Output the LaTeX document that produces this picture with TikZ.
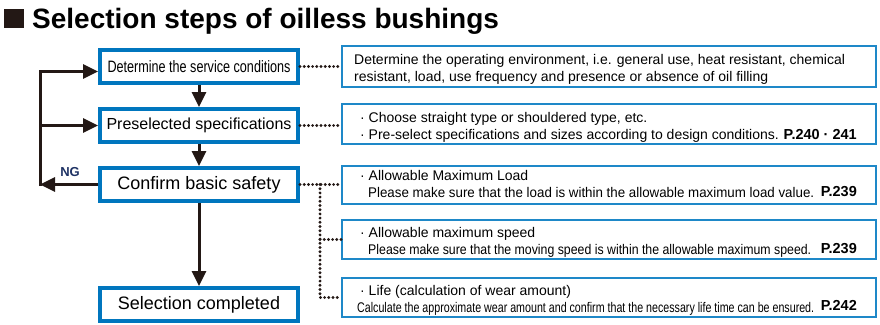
\documentclass[tikz,border=0pt]{standalone}
\usepackage{fontspec}
\setmainfont{Liberation Sans}
\usetikzlibrary{arrows.meta}

\begin{document}
\begin{tikzpicture}[x=1pt,y=-1pt,>={Triangle[length=15pt,width=14pt]},
  stepbox/.style={draw=boxblue,line width=4pt,fill=white,minimum width=198pt,
    minimum height=33pt,inner sep=0pt},
  notebox/.style={draw=noteblue,line width=1.5pt,minimum width=534pt,inner sep=0pt},
  notetext/.style={anchor=base west,inner sep=0pt,font=\fontsize{14}{17}\selectfont},
  pageref/.style={anchor=base east,inner sep=0pt,font=\bfseries\fontsize{14.5}{17}\selectfont},
  flow/.style={line width=3pt,draw=arrowdark},
  link/.style={line width=3.2pt,draw=arrowdark,dash pattern=on 0pt off 4.2pt,line cap=round}]
\definecolor{boxblue}{RGB}{0,118,190}
\definecolor{noteblue}{RGB}{30,136,200}
\definecolor{arrowdark}{RGB}{35,24,21}
\definecolor{ngblue}{RGB}{30,50,100}

\useasboundingbox (0,0) rectangle (880,324);

% heading
\node[fill=arrowdark,minimum width=20pt,minimum height=19pt,inner sep=0pt] (mark) at (14,18) {};
\node[anchor=base west,inner sep=0pt,font=\bfseries\fontsize{28}{32}\selectfont] (title)
  at (32,28) {Selection steps of oilless bushings};

% steps on the left
\node[stepbox,font=\fontsize{16.5}{18}\selectfont] (service) at (199,66.5)
  {\resizebox{183pt}{\height}{Determine the service conditions}};
\node[stepbox,font=\fontsize{16}{18}\selectfont] (presel) at (199,125.5) {Preselected specifications};
\node[stepbox,font=\fontsize{18}{20}\selectfont] (safety) at (199,184.5) {Confirm basic safety};
\node[stepbox,font=\fontsize{18}{20}\selectfont] (done) at (199,304.5) {Selection completed};

\draw[flow,->] (service) -- (presel);
\draw[flow,->] (presel) -- (safety);
\draw[flow,->] (safety) -- (done);

% NG loop back
\coordinate (loop) at (40,184.5);
\draw[flow,->] (safety.west) -- (loop);
\draw[flow,->] ([yshift=-1.5pt]loop) |- ([yshift=-5pt]service.west);
\draw[flow,->] (loop |- presel.west) -- (presel.west);
\node[font=\bfseries\fontsize{13}{15}\selectfont,text=ngblue,inner sep=0pt] (ng) at (70,172.5) {NG};

% notes on the right
\node[notebox,minimum height=41pt] (envbox) at (609,66.5) {};
\node[notetext] (env1) at (354,64.5)
  {Determine the operating environment, i.e. general use, heat resistant, chemical};
\node[notetext] (env2) at (354,81.5)
  {resistant, load, use frequency and presence or absence of oil filling};

\node[notebox,minimum height=40pt] (specbox) at (609,124) {};
\node[notetext] (spec1) at (360,122) {· Choose straight type or shouldered type, etc.};
\node[notetext] (spec2) at (360,139)
  {· Pre-select specifications and sizes according to design conditions.};
\node[pageref] (specref) at (857,139) {P.240 · 241};

\node[notebox,minimum height=38pt] (loadbox) at (609,185) {};
\node[notetext] (load1) at (360,180) {· Allowable Maximum Load};
\node[notetext] (load2) at (368,197)
  {\resizebox{446pt}{\height}{Please make sure that the load is within the allowable maximum load value.}};
\node[pageref] (loadref) at (857,196) {P.239};

\node[notebox,minimum height=39pt] (speedbox) at (609,239.5) {};
\node[notetext] (speed1) at (360,237) {· Allowable maximum speed};
\node[notetext] (speed2) at (368,254)
  {\resizebox{443pt}{\height}{Please make sure that the moving speed is within the allowable maximum speed.}};
\node[pageref] (speedref) at (857,253) {P.239};

\node[notebox,minimum height=39pt] (lifebox) at (609,297.5) {};
\node[notetext] (life1) at (360,295) {· Life (calculation of wear amount)};
\node[notetext] (life2) at (357,312)
  {\resizebox{457pt}{\height}{Calculate the approximate wear amount and confirm that the necessary life time can be ensured.}};
\node[pageref] (liferef) at (857,310) {P.242};

% dotted links
\draw[link] (service.east) -- (envbox.west |- service.east);
\draw[link] (presel.east) -- (specbox.west |- presel.east);
\draw[link] (safety.east) -- (loadbox.west |- safety.east);
\coordinate (branch) at (320,184.5);
\draw[link] (branch) |- (lifebox.west);
\draw[link] (branch |- speedbox.west) -- (speedbox.west);
\end{tikzpicture}
\end{document}
